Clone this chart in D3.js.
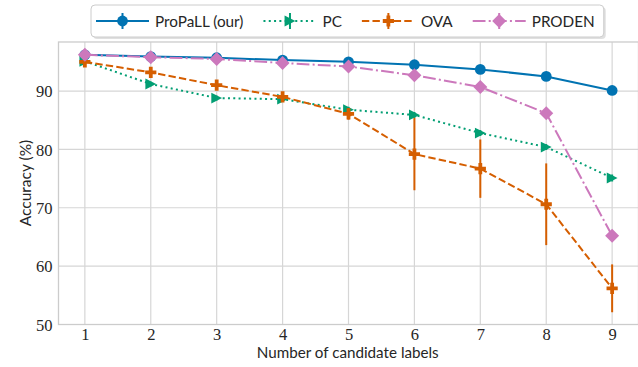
<!DOCTYPE html>
<html><head><meta charset="utf-8">
<script src="https://cdn.jsdelivr.net/npm/d3@7"></script>
<style>html,body{margin:0;padding:0;background:#fff;}</style>
</head><body>
<svg id="chart" width="638" height="367"></svg>
<script>
const candidates = [1, 2, 3, 4, 5, 6, 7, 8, 9];
const xTicks = [1, 2, 3, 4, 5, 6, 7, 8, 9];
const yTicks = [50, 60, 70, 80, 90];
const seriesNames = ["ProPaLL (our)", "PC", "OVA", "PRODEN"];
const propall = [96.2, 95.9, 95.7, 95.3, 95.0, 94.5, 93.7, 92.5, 90.1];
const propallErr = [0.2, 0.2, 0.2, 0.3, 0.3, 0.3, 0.3, 0.4, 0.5];
const pc = [95.1, 91.2, 88.8, 88.6, 86.8, 85.9, 82.8, 80.4, 75.1];
const pcErr = [0.3, 0.4, 0.4, 0.4, 0.5, 0.5, 0.5, 0.5, 0.6];
const ova = [95.0, 93.2, 91.0, 89.0, 86.1, 79.2, 76.7, 70.6, 56.2];
const ovaErr = [0.5, 0.7, 0.7, 0.8, 1.0, 6.2, 5.0, 7.0, 4.1];
const proden = [96.2, 95.8, 95.5, 94.8, 94.2, 92.7, 90.7, 86.2, 65.2];
const prodenErr = [0.2, 0.2, 0.2, 0.3, 0.3, 0.4, 0.5, 0.6, 0.7];

const colors = ["#0173b2", "#029e73", "#d55e00", "#cc78bc"];
const dashes = [null, "2,3.3", "7.4,3.2", "12.8,3.2,2,3.2"];
const markers = ["circle", "triangle", "plus", "diamond"];
const values = [propall, pc, ova, proden];
const errors = [propallErr, pcErr, ovaErr, prodenErr];

const svg = d3.select("#chart");
const L = 58.5, R = 638.5, T = 42, B = 324.5;
const x = d3.scaleLinear().domain([0.6, 9.4]).range([L, R]);
const y = d3.scaleLinear().domain([50, 98.4]).range([B, T]);

const serif = "'Liberation Serif', serif";
const sans = "Lato, 'Noto Sans', sans-serif";
const gridCol = "#d6d6d6";

// grid
const g = svg.append("g");
g.selectAll(".vg").data(xTicks).enter().append("line")
  .attr("x1", d => x(d)).attr("x2", d => x(d)).attr("y1", T).attr("y2", B)
  .attr("stroke", gridCol).attr("stroke-width", 1.2);
g.selectAll(".hg").data(yTicks).enter().append("line")
  .attr("x1", L).attr("x2", R).attr("y1", d => y(d)).attr("y2", d => y(d))
  .attr("stroke", gridCol).attr("stroke-width", 1.2);
// spines
svg.append("rect").attr("x", L).attr("y", T).attr("width", R - L).attr("height", B - T)
  .attr("fill", "none").attr("stroke", "#cccccc").attr("stroke-width", 1.3);

// axes
const xAxis = d3.axisBottom(x).tickValues(xTicks).tickSize(0).tickPadding(3.5).tickFormat(d3.format("d"));
const yAxis = d3.axisLeft(y).tickValues(yTicks).tickSize(0).tickPadding(6).tickFormat(d3.format("d"));
const xg = svg.append("g").attr("transform", `translate(0,${B})`).call(xAxis);
const yg = svg.append("g").attr("transform", `translate(${L},0)`).call(yAxis);
[xg, yg].forEach(a => {
  a.select(".domain").remove();
  a.selectAll("text").attr("font-family", serif).attr("font-size", 16.5).attr("fill", "#262626");
});
yg.selectAll("text").attr("dy", "0.35em");

svg.append("text").attr("x", (L + 637) / 2).attr("y", 358)
  .attr("text-anchor", "middle").attr("font-family", sans).attr("font-size", 15.2)
  .attr("fill", "#262626").text("Number of candidate labels");
svg.append("text").attr("transform", `translate(31,183) rotate(-90)`)
  .attr("text-anchor", "middle").attr("font-family", sans).attr("font-size", 15.5)
  .attr("fill", "#262626").text("Accuracy (%)");

function markerPath(type) {
  if (type === "triangle") return "M5.4,0L-5.4,-5.4L-5.4,5.4Z";
  if (type === "plus") { const a = 5.6, b = 1.9;
    return `M${-b},${-a}H${b}V${-b}H${a}V${b}H${b}V${a}H${-b}V${b}H${-a}V${-b}H${-b}Z`; }
  if (type === "diamond") return "M0,-7L7,0L0,7L-7,0Z";
  return null;
}
function drawMarker(sel, type, color, cx, cy) {
  if (type === "circle") {
    sel.append("circle").attr("cx", cx).attr("cy", cy).attr("r", 5.4).attr("fill", color);
  } else {
    sel.append("path").attr("d", markerPath(type)).attr("transform", `translate(${cx},${cy})`).attr("fill", color);
  }
}

const line = d3.line().x((d, i) => x(candidates[i])).y(d => y(d));
values.forEach((vals, s) => {
  const sg = svg.append("g");
  sg.append("path").attr("d", line(vals)).attr("fill", "none")
    .attr("stroke", colors[s]).attr("stroke-width", 2)
    .attr("stroke-dasharray", dashes[s]);
  vals.forEach((v, i) => {
    sg.append("line").attr("x1", x(candidates[i])).attr("x2", x(candidates[i]))
      .attr("y1", y(v - errors[s][i])).attr("y2", y(v + errors[s][i]))
      .attr("stroke", colors[s]).attr("stroke-width", 2);
  });
  vals.forEach((v, i) => drawMarker(sg, markers[s], colors[s], x(candidates[i]), y(v)));
});

// legend
const lg = svg.append("g");
const shadow = lg.append("rect");
const box = lg.append("rect");
let cx = 96;
const ly = 21;
seriesNames.forEach((name, s) => {
  lg.append("line").attr("x1", cx).attr("x2", cx + 53).attr("y1", ly).attr("y2", ly)
    .attr("stroke", colors[s]).attr("stroke-width", 2).attr("stroke-dasharray", dashes[s]);
  lg.append("line").attr("x1", cx + 26.5).attr("x2", cx + 26.5).attr("y1", ly - 8).attr("y2", ly + 8)
    .attr("stroke", colors[s]).attr("stroke-width", 2);
  drawMarker(lg, markers[s], colors[s], cx + 26.5, ly);
  const t = lg.append("text").attr("x", cx + 59).attr("y", ly + 5.5)
    .attr("font-family", sans).attr("font-size", 15.3).attr("fill", "#262626").text(name);
  cx = cx + 59 + t.node().getComputedTextLength() + 20;
});
const bx = 91, bw = cx - 20 + 9 - bx;
shadow.attr("x", bx + 2).attr("y", 7).attr("width", bw).attr("height", 32).attr("rx", 4)
  .attr("fill", "#000").attr("opacity", 0.12);
box.attr("x", bx).attr("y", 5).attr("width", bw).attr("height", 32).attr("rx", 4)
  .attr("fill", "#fff").attr("stroke", "#cccccc").attr("stroke-width", 1);
</script>
</body></html>
